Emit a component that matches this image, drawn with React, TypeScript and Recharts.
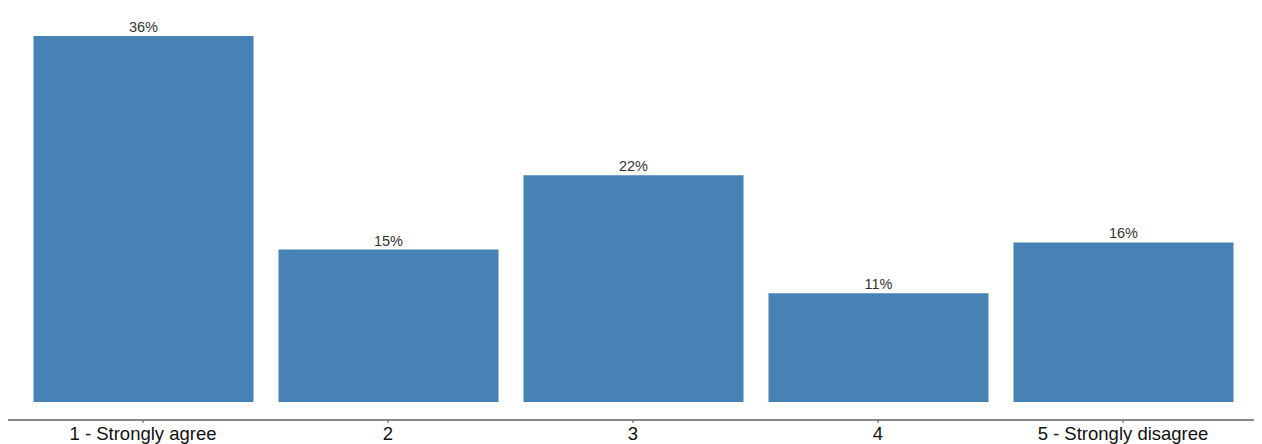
import { BarChart, Bar, XAxis, YAxis, LabelList } from 'recharts';

const categories = ['1 - Strongly agree', '2', '3', '4', '5 - Strongly disagree'];
const shares = [36, 15.0, 22.3, 10.7, 15.7];

const data = categories.map((answer, i) => ({ answer, share: shares[i] }));

export default function App() {
  return (
    <div style={{ fontFamily: '"Liberation Sans", Arial, sans-serif' }}>
      <BarChart
        width={1254}
        height={436}
        data={data}
        margin={{ top: 28, right: 2, bottom: 0, left: 0 }}
      >
        <XAxis
          dataKey="answer"
          height={24}
          padding={{ left: 12.5, right: 14.5 }}
          axisLine={{ stroke: '#111', strokeWidth: 1 }}
          tickLine={{ stroke: '#555' }}
          tickSize={3}
          tickMargin={4}
          tick={{ fill: '#111', fontSize: 18.5 }}
          interval={0}
        />
        <YAxis hide domain={[-1.77, 36]} />
        <Bar dataKey="share" fill="#4682b4" barSize={220} isAnimationActive={false}>
          <LabelList
            dataKey="share"
            position="top"
            offset={4}
            formatter={(v: any) => `${Math.round(Number(v))}%`}
            style={{ fill: '#333', fontSize: 14.5 }}
          />
        </Bar>
      </BarChart>
    </div>
  );
}
